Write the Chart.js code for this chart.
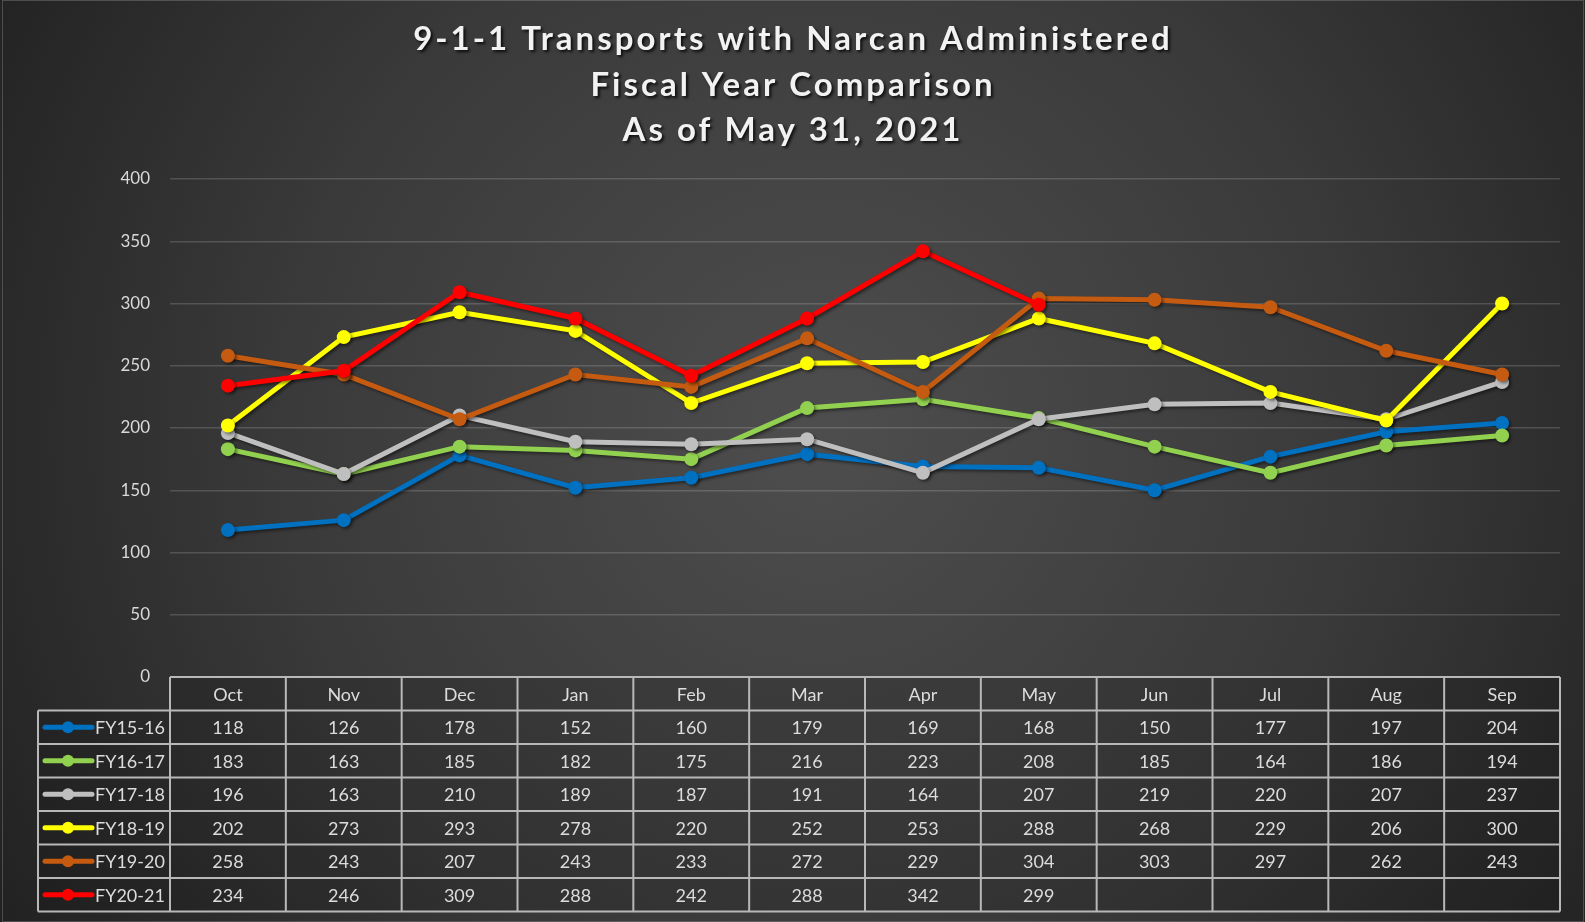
<!DOCTYPE html>
<html>
<head>
<meta charset="utf-8">
<script src="https://cdn.jsdelivr.net/npm/chart.js@4.4.1/dist/chart.umd.min.js"></script>
<style>
    html, body { margin: 0; padding: 0; background: #2a2a2a; }
    #wrap { width: 1585px; height: 922px; position: relative; }
</style>
</head>
<body>
<div id="wrap"><canvas id="narcan-chart" width="1585" height="922"></canvas></div>
<script>
// Months of the fiscal year
const months = ['Oct', 'Nov', 'Dec', 'Jan', 'Feb', 'Mar', 'Apr', 'May', 'Jun', 'Jul', 'Aug', 'Sep'];

// Series values per fiscal year
const fy1516 = [118, 126, 178, 152, 160, 179, 169, 168, 150, 177, 197, 204];
const fy1617 = [183, 163, 185, 182, 175, 216, 223, 208, 185, 164, 186, 194];
const fy1718 = [196, 163, 210, 189, 187, 191, 164, 207, 219, 220, 207, 237];
const fy1819 = [202, 273, 293, 278, 220, 252, 253, 288, 268, 229, 206, 300];
const fy1920 = [258, 243, 207, 243, 233, 272, 229, 304, 303, 297, 262, 243];
const fy2021 = [234, 246, 309, 288, 242, 288, 342, 299, null, null, null, null];

const seriesNames = ['FY15-16', 'FY16-17', 'FY17-18', 'FY18-19', 'FY19-20', 'FY20-21'];
const seriesValues = [fy1516, fy1617, fy1718, fy1819, fy1920, fy2021];
const seriesColors = ['#0070C0', '#92D050', '#BFBFBF', '#FFFF00', '#C55A11', '#FF0000'];

const yTicks = [0, 50, 100, 150, 200, 250, 300, 350, 400];

const titleLines = ['9-1-1 Transports with Narcan Administered', 'Fiscal Year Comparison', 'As of May 31, 2021'];

const FONT = 'Lato, "Open Sans", sans-serif';

// background with lighter centre
const backgroundPlugin = {
    id: 'bg',
    beforeDraw(chart) {
        const ctx = chart.ctx;
        const w = chart.width, h = chart.height;
        ctx.save();
        const g = ctx.createRadialGradient(820, 430, 20, 820, 430, 950);
        g.addColorStop(0, '#4d4d4d');
        g.addColorStop(0.55, '#3a3a3a');
        g.addColorStop(1, '#222222');
        ctx.fillStyle = g;
        ctx.fillRect(0, 0, w, h);
        ctx.strokeStyle = 'rgba(200,200,200,0.25)';
        ctx.lineWidth = 1;
        ctx.strokeRect(2.5, 0.5, w - 4, h - 1);
        ctx.restore();
    }
};

// three-line title with shadow and letter spacing
const titlePlugin = {
    id: 'bigTitle',
    afterDraw(chart) {
        const ctx = chart.ctx;
        ctx.save();
        ctx.font = 'bold 33px ' + FONT;
        ctx.fillStyle = '#f2f2f2';
        ctx.textAlign = 'center';
        ctx.textBaseline = 'middle';
        ctx.letterSpacing = '3px';
        ctx.shadowColor = 'rgba(0,0,0,0.8)';
        ctx.shadowOffsetX = 2;
        ctx.shadowOffsetY = 2;
        ctx.shadowBlur = 3;
        const ys = [39, 85, 130];
        titleLines.forEach((t, i) => ctx.fillText(t, 793, ys[i]));
        ctx.restore();
    }
};

// soft shadow under the lines
const shadowPlugin = {
    id: 'lineShadow',
    beforeDatasetDraw(chart) {
        const ctx = chart.ctx;
        ctx.shadowColor = 'rgba(0,0,0,0.45)';
        ctx.shadowOffsetX = 2;
        ctx.shadowOffsetY = 2;
        ctx.shadowBlur = 3;
    },
    afterDatasetDraw(chart) {
        const ctx = chart.ctx;
        ctx.shadowColor = 'rgba(0,0,0,0)';
        ctx.shadowBlur = 0;
        ctx.shadowOffsetX = 0;
        ctx.shadowOffsetY = 0;
    }
};

// data table under the plot, columns follow the x scale
const tablePlugin = {
    id: 'dataTable',
    afterDraw(chart) {
        const ctx = chart.ctx;
        const x = chart.scales.x;
        const area = chart.chartArea;
        const colW = (area.right - area.left) / months.length;
        const top = area.bottom;
        const rowH = 33.5;
        const legendLeft = 38;
        const nRows = seriesNames.length;
        const bottom = top + rowH * (nRows + 1);

        ctx.save();
        ctx.fillStyle = 'rgba(0,0,0,0.12)';
        ctx.fillRect(area.left, top, area.right - area.left, bottom - top);
        ctx.fillRect(legendLeft, top + rowH, area.left - legendLeft, bottom - top - rowH);

        ctx.strokeStyle = '#b8b8b8';
        ctx.lineWidth = 2;
        ctx.beginPath();
        // horizontal lines
        ctx.moveTo(area.left, top);
        ctx.lineTo(area.right, top);
        for (let r = 1; r <= nRows + 1; r++) {
            const y = top + r * rowH;
            ctx.moveTo(legendLeft, y);
            ctx.lineTo(area.right, y);
        }
        // vertical lines
        ctx.moveTo(legendLeft, top + rowH);
        ctx.lineTo(legendLeft, bottom);
        for (let c = 0; c <= months.length; c++) {
            const xx = area.left + c * colW;
            ctx.moveTo(xx, top);
            ctx.lineTo(xx, bottom);
        }
        ctx.stroke();

        ctx.font = '18px ' + FONT;
        ctx.fillStyle = '#dcdcdc';
        ctx.textAlign = 'center';
        ctx.textBaseline = 'middle';
        months.forEach((m, i) => {
            ctx.fillText(m, x.getPixelForValue(i), top + rowH / 2 + 1);
        });
        seriesValues.forEach((vals, r) => {
            const y = top + (r + 1.5) * rowH + 1;
            vals.forEach((v, i) => {
                if (v !== null) ctx.fillText(String(v), x.getPixelForValue(i), y);
            });
        });

        // legend keys
        seriesNames.forEach((name, r) => {
            const y = top + (r + 1.5) * rowH;
            ctx.strokeStyle = seriesColors[r];
            ctx.fillStyle = seriesColors[r];
            ctx.lineWidth = 5;
            ctx.lineCap = 'round';
            ctx.beginPath();
            ctx.moveTo(45, y);
            ctx.lineTo(92, y);
            ctx.stroke();
            ctx.beginPath();
            ctx.arc(68, y, 6, 0, Math.PI * 2);
            ctx.fill();
            ctx.fillStyle = '#dcdcdc';
            ctx.textAlign = 'left';
            ctx.fillText(name, 95, y + 1);
        });
        ctx.restore();
    }
};

const ctx = document.getElementById('narcan-chart').getContext('2d');

new Chart(ctx, {
    type: 'line',
    data: {
        labels: months,
        datasets: seriesNames.map((name, i) => ({
            label: name,
            data: seriesValues[i],
            borderColor: seriesColors[i],
            backgroundColor: seriesColors[i],
            borderWidth: 5,
            pointRadius: 7,
            pointHoverRadius: 7,
            pointBorderWidth: 0,
            tension: 0,
            order: seriesNames.length - i,
        }))
    },
    options: {
        responsive: false,
        animation: false,
        layout: {
            padding: { top: 179, bottom: 245, left: 0, right: 25 }
        },
        scales: {
            x: {
                display: false,
                offset: true,
            },
            y: {
                min: 0,
                max: 400,
                afterBuildTicks: (scale) => {
                    scale.ticks = yTicks.map(v => ({ value: v }));
                },
                afterFit: (scale) => {
                    scale.width = 170;
                },
                border: { display: false },
                grid: {
                    color: 'rgba(255,255,255,0.16)',
                    lineWidth: 1.5,
                    drawTicks: false,
                },
                ticks: {
                    color: '#d9d9d9',
                    padding: 20,
                    font: { family: FONT, size: 17 },
                },
            },
        },
        plugins: {
            legend: { display: false },
            tooltip: { enabled: false },
        },
    },
    plugins: [backgroundPlugin, shadowPlugin, tablePlugin, titlePlugin],
});
</script>
</body>
</html>
